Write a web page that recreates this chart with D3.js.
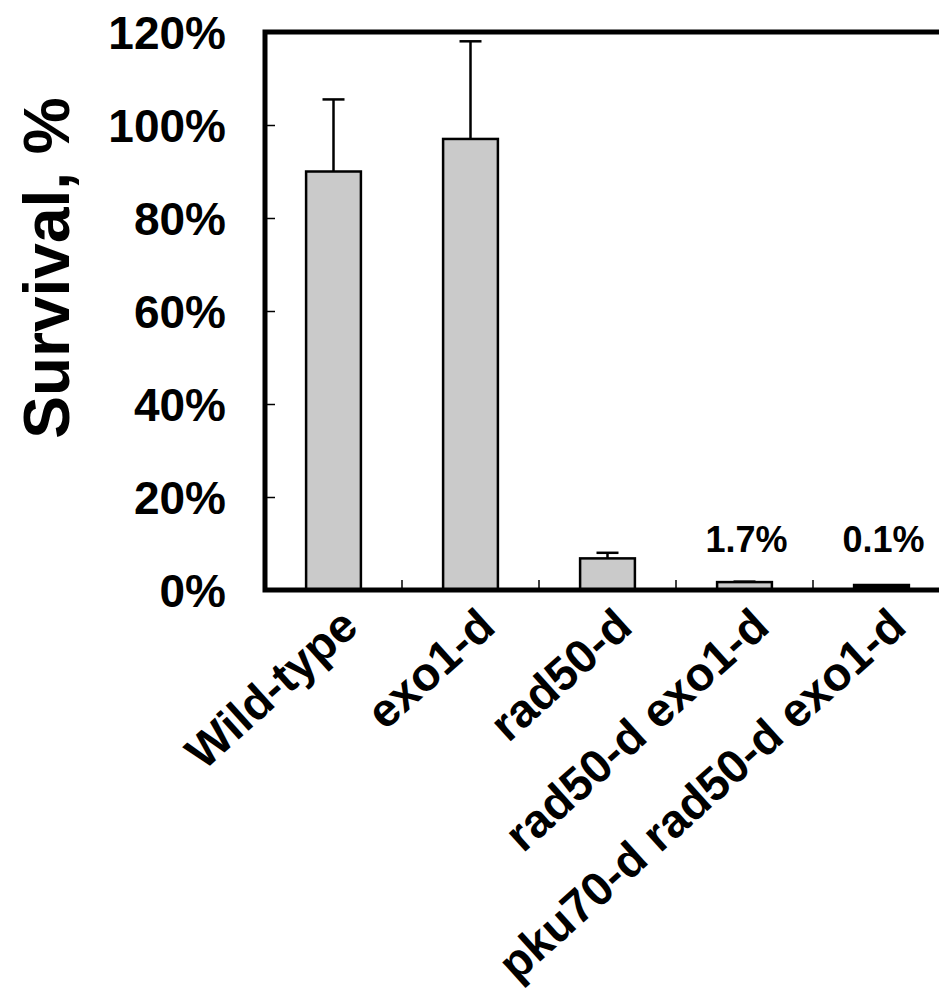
<!DOCTYPE html>
<html>
<head>
<meta charset="utf-8">
<script src="https://cdn.jsdelivr.net/npm/d3@7"></script>
<style>
  body { margin: 0; background: #fff; }
  svg text { font-family: "Liberation Sans", Arial, Helvetica, sans-serif; font-weight: bold; fill: #000; }
</style>
</head>
<body>
<div id="chart"></div>
<script>
// data
const categories = ['Wild-type', 'exo1-d', 'rad50-d', 'rad50-d exo1-d', 'pku70-d rad50-d exo1-d'];
const survival = [0.90, 0.97, 0.068, 0.017, 0.001];
const errors = [0.155, 0.21, 0.012, 0.001, 0.0005];
const annotations = ['', '', '', '1.7%', '0.1%'];
const yTicks = [0, 0.2, 0.4, 0.6, 0.8, 1.0, 1.2];

const width = 939, height = 1000;
const plot = { left: 265, right: 950, top: 32, bottom: 590 };

const svg = d3.select('#chart')
    .append('svg')
    .attr('width', width)
    .attr('height', height);

const x = d3.scaleBand()
    .domain(categories)
    .range([plot.left, plot.right]);
const y = d3.scaleLinear()
    .domain([0, 1.2])
    .range([plot.bottom, plot.top]);

const barWidth = x.bandwidth() * 0.4;
const rows = categories.map((c, i) => ({ cat: c, v: survival[i], e: errors[i], note: annotations[i] }));
const cx = d => x(d) + x.bandwidth() / 2;

// y ticks (inside) and labels
const yAxis = d3.axisRight(y)
    .tickValues(yTicks)
    .tickSize(10)
    .tickFormat('');
svg.append('g')
    .attr('transform', `translate(${plot.left},0)`)
    .call(yAxis)
    .call(g => g.select('.domain').remove())
    .call(g => g.selectAll('line').attr('stroke', '#000').attr('stroke-width', 1.5));

svg.append('g')
    .selectAll('text')
    .data(yTicks)
    .join('text')
    .attr('x', 226)
    .attr('y', d => y(d))
    .attr('dy', '0.36em')
    .attr('text-anchor', 'end')
    .style('font-size', '46px')
    .text(d => d3.format('.0%')(d));

// x ticks between categories, pointing up
const bounds = categories.slice(1).map(c => x(c));
svg.append('g')
    .selectAll('line')
    .data(bounds)
    .join('line')
    .attr('x1', d => d).attr('x2', d => d)
    .attr('y1', plot.bottom).attr('y2', plot.bottom - 10)
    .attr('stroke', '#000')
    .attr('stroke-width', 1.5);

// bars; a bar thinner than its outline shows up as a dark sliver
const bars = svg.append('g');
bars.selectAll('rect')
    .data(rows)
    .join('rect')
    .attr('x', d => cx(d.cat) - barWidth / 2)
    .attr('y', d => Math.min(y(d.v), plot.bottom - 5))
    .attr('width', barWidth)
    .attr('height', d => Math.max(y(0) - y(d.v), 5))
    .attr('fill', d => y(0) - y(d.v) < 2 ? '#000' : '#cacaca')
    .attr('stroke', '#000')
    .attr('stroke-width', 2.5);

// error bars
const err = svg.append('g')
    .attr('stroke', '#000')
    .attr('stroke-width', 2.5);
err.selectAll('line.v')
    .data(rows)
    .join('line')
    .attr('class', 'v')
    .attr('x1', d => cx(d.cat))
    .attr('x2', d => cx(d.cat))
    .attr('y1', d => y(d.v))
    .attr('y2', d => y(d.v + d.e));
err.selectAll('line.cap')
    .data(rows)
    .join('line')
    .attr('class', 'cap')
    .attr('x1', d => cx(d.cat) - 11)
    .attr('x2', d => cx(d.cat) + 11)
    .attr('y1', d => y(d.v + d.e))
    .attr('y2', d => y(d.v + d.e));

// frame
svg.append('rect')
    .attr('x', plot.left)
    .attr('y', plot.top)
    .attr('width', plot.right - plot.left)
    .attr('height', plot.bottom - plot.top)
    .attr('fill', 'none')
    .attr('stroke', '#000')
    .attr('stroke-width', 5);

// value annotations
svg.append('g')
    .selectAll('text')
    .data(rows.filter(d => d.note))
    .join('text')
    .attr('x', d => cx(d.cat) + 2)
    .attr('y', 552)
    .attr('text-anchor', 'middle')
    .style('font-size', '36px')
    .text(d => d.note);

// category labels
svg.append('g')
    .selectAll('text')
    .data(categories)
    .join('text')
    .attr('transform', d => `translate(${cx(d) + 27},630) rotate(-42)`)
    .attr('text-anchor', 'end')
    .style('font-size', '47px')
    .text(d => d);

// y title
svg.append('text')
    .attr('transform', `translate(69,${(plot.top + plot.bottom) / 2 - 43}) rotate(-90)`)
    .attr('text-anchor', 'middle')
    .style('font-size', '64px')
    .text('Survival, %');
</script>
</body>
</html>
